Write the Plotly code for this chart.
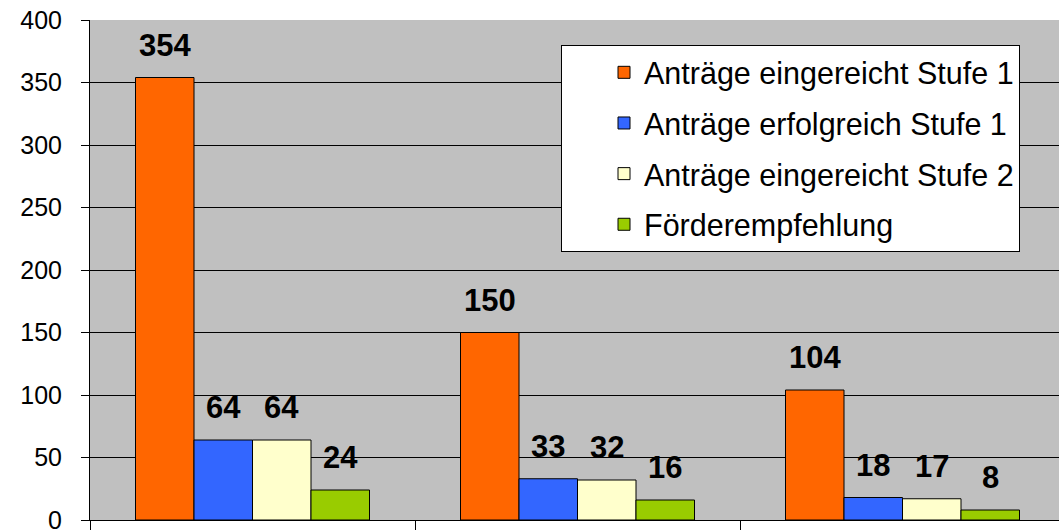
import plotly.graph_objects as go

groups = [1, 2, 3]
series_names = [
    "Anträge eingereicht Stufe 1",
    "Anträge erfolgreich Stufe 1",
    "Anträge eingereicht Stufe 2",
    "Förderempfehlung",
]
eingereicht_1 = [354, 150, 104]
erfolgreich_1 = [64, 33, 18]
eingereicht_2 = [64, 32, 17]
foerderempfehlung = [24, 16, 8]
colors = ["#FF6600", "#3366FF", "#FFFFCC", "#99CC00"]

series_values = [eingereicht_1, erfolgreich_1, eingereicht_2, foerderempfehlung]

bargap = 0.28
n = len(series_values)
bar_w = (1 - bargap) / n

fig = go.Figure()
annotations = []
for i, (name, vals, col) in enumerate(zip(series_names, series_values, colors)):
    fig.add_trace(go.Bar(
        x=groups, y=vals, name=name,
        marker=dict(color=col, line=dict(color="black", width=1)),
        legendgroup=f"g{i}",
    ))
    off = (i - (n - 1) / 2) * bar_w
    for g, v in zip(groups, vals):
        annotations.append(dict(
            x=g + off, y=v, xref="x", yref="y", text=f"<b>{v}</b>",
            showarrow=False, yanchor="bottom", yshift=13,
            font=dict(family="Liberation Sans, Arial", size=31, color="black"),
        ))

fig.update_layout(
    width=1059, height=530,
    margin=dict(l=90, r=0, t=20, b=10),
    barmode="group", bargap=bargap, bargroupgap=0,
    plot_bgcolor="#C0C0C0", paper_bgcolor="white",
    font=dict(family="Liberation Sans, Arial", color="black"),
    annotations=annotations,
    showlegend=True,
    legend=dict(
        x=(561 - 90) / 969, y=(520 - 45) / 500, xanchor="left", yanchor="top",
        bgcolor="white", bordercolor="black", borderwidth=1,
        font=dict(size=30.5, color="black"),
        tracegroupgap=8, indentation=42,
    ),
    xaxis=dict(
        range=[0.5, 0.5 + 969 / 325], tickvals=[0.5, 1.5, 2.5, 3.5],
        ticktext=["", "", "", ""], ticks="outside", ticklen=12,
        tickcolor="black", showline=True, linecolor="black", linewidth=1,
        showgrid=False, zeroline=False, automargin=False,
    ),
    yaxis=dict(
        range=[0, 400], dtick=50, tick0=0, ticks="outside", ticklen=8,
        tickcolor="black", showline=True, linecolor="black", linewidth=1,
        showgrid=True, gridcolor="black", gridwidth=1, zeroline=False,
        tickfont=dict(size=25, color="black"), ticklabelstandoff=14,
        ticklabeloverflow="allow", automargin=False,
    ),
)

fig.write_html(
    "out.html",
    config={"displayModeBar": False},
    post_script="document.body.style.margin='0';document.body.style.overflow='hidden';",
)
